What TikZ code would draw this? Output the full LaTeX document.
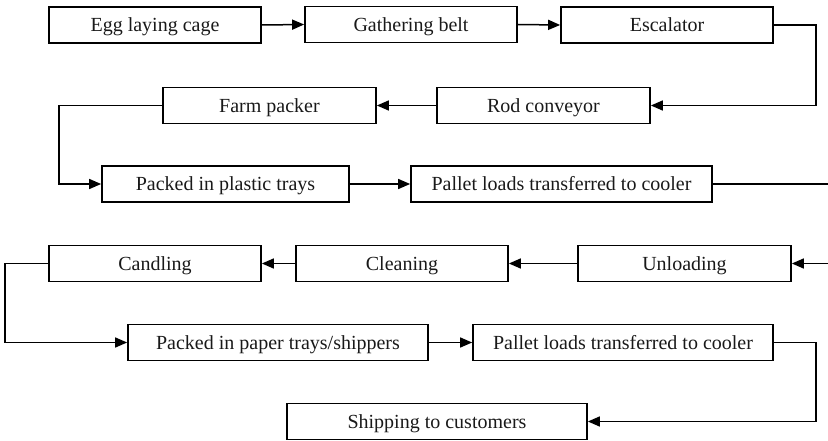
\documentclass[tikz,border=0pt]{standalone}
\usepackage{fontspec}
\setmainfont{Liberation Serif}
\usetikzlibrary{arrows.meta}
\begin{document}
\begin{tikzpicture}[x=1pt,y=-1pt,
  box/.style={draw, line width=1.7pt, inner sep=0pt, minimum height=36pt,
    text height=14pt, text depth=0pt,
    font=\fontsize{20}{24}\selectfont, text=black!90},
  conn/.style={line width=1.5pt, -{Triangle[length=12pt,width=10pt]}},
  plain/.style={line width=1.5pt}]
\useasboundingbox (0,0) rectangle (828,441);
% row 1
\node[box, minimum width=212pt] (egg) at (155,25) {Egg laying cage};
\node[box, minimum width=212pt] (gath) at (411,24.5) {Gathering belt};
\node[box, minimum width=212pt] (esc) at (667,25) {Escalator};
% row 2
\node[box, minimum width=213pt] (rod) at (543.5,105.5) {Rod conveyor};
\node[box, minimum width=213pt] (farm) at (269.5,105.5) {Farm packer};
% row 3
\node[box, minimum width=247pt] (plastic) at (225.5,184) {Packed in plastic trays};
\node[box, minimum width=301pt] (pal1) at (561.5,184) {Pallet loads transferred to cooler};
\coordinate (out1) at (828,184);
% row 4
\coordinate (in2) at (828,263.5);
\node[box, minimum width=213pt] (unload) at (684.5,263.5) {Unloading};
\node[box, minimum width=212pt] (clean) at (402,263.5) {Cleaning};
\node[box, minimum width=212pt] (cand) at (155,263.5) {Candling};
% row 5
\node[box, minimum width=300pt] (paper) at (278,342.5) {Packed in paper trays/shippers};
\node[box, minimum width=300pt] (pal2) at (623,342.5) {Pallet loads transferred to cooler};
% row 6
\node[box, minimum width=300pt] (ship) at (437,421.5) {Shipping to customers};
% connectors
\draw[conn] (egg.east) -- (gath.west);
\draw[conn] (gath.east) -- (esc.west);
\draw[conn] (esc.east) -- ++(42,0) |- (rod.east);
\draw[conn] (rod.west) -- (farm.east);
\draw[conn] (farm.west) -- ++(-103,0) |- (plastic.west);
\draw[conn] (plastic.east) -- (pal1.west);
\draw[plain] (pal1.east) -- (out1);
\draw[conn] (in2) -- (unload.east);
\draw[conn] (unload.west) -- (clean.east);
\draw[conn] (clean.west) -- (cand.east);
\draw[conn] (cand.west) -- ++(-43,0) |- (paper.west);
\draw[conn] (paper.east) -- (pal2.west);
\draw[conn] (pal2.east) -- ++(42,0) |- (ship.east);
\end{tikzpicture}
\end{document}
